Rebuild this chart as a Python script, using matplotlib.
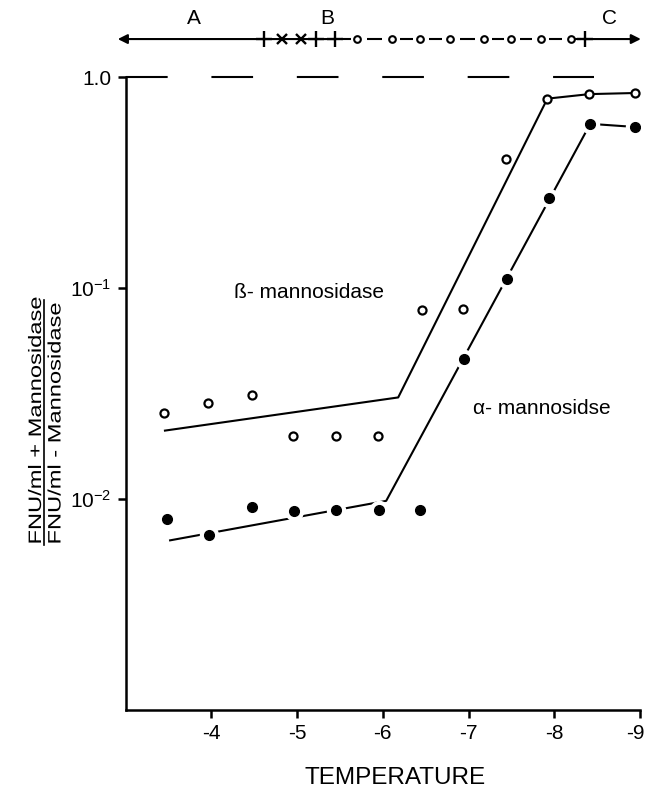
import numpy as np
import matplotlib
matplotlib.use("Agg")
import matplotlib.pyplot as plt
from matplotlib.lines import Line2D
from matplotlib.patches import PathPatch
from matplotlib.textpath import TextPath
from matplotlib.font_manager import FontProperties
import matplotlib.transforms as mtransforms

plt.rcParams['font.family'] = ['Liberation Sans', 'DejaVu Sans']
plt.rcParams['mathtext.fontset'] = 'custom'
plt.rcParams['mathtext.rm'] = 'Liberation Sans'

# beta-mannosidase (open circles)
beta_t = [-3.45, -3.96, -4.47, -4.95, -5.45, -5.95, -6.46, -6.94, -7.44, -7.92, -8.41, -8.94]
beta_r = [0.0256, 0.0286, 0.031, 0.020, 0.020, 0.020, 0.0787, 0.0795, 0.41, 0.79, 0.83, 0.84]
beta_fit_t = [-3.46, -6.18, -7.92, -8.41, -8.94]
beta_fit_r = [0.0211, 0.0303, 0.79, 0.83, 0.84]

# alpha-mannosidase (filled circles)
alpha_t = [-3.48, -3.97, -4.47, -4.96, -5.46, -5.96, -6.43, -6.95, -7.45, -7.94, -8.42, -8.94]
alpha_r = [0.0080, 0.00673, 0.0092, 0.0088, 0.0089, 0.0089, 0.0089, 0.046, 0.110, 0.267, 0.60, 0.58]
alpha_fit_t = [-3.52, -6.04, -8.42, -8.94]
alpha_fit_r = [0.00637, 0.0098, 0.60, 0.58]

# top strip: phase marks
plus_t = [-4.61, -5.22, -5.44, -8.36]
cross_t = [-4.82, -5.05]
ring_t = [-5.70, -6.11, -6.44, -6.79, -7.18, -7.50, -7.84, -8.19]
strip_span = [-2.91, -9.01]
region_labels = ['A', 'B', 'C']
region_t = [-3.80, -5.35, -8.65]

yticks = [1e-2, 1e-1, 1.0]
ytick_labels = [r'$\mathregular{10^{-2}}$', r'$\mathregular{10^{-1}}$', '1.0']
xticks = [-4, -5, -6, -7, -8, -9]
ylabel_num = 'FNU/ml + Mannosidase'
ylabel_den = 'FNU/ml - Mannosidase'

fig = plt.figure(figsize=(6.46, 7.95), dpi=100)
ax = fig.add_axes([0.1943, 0.1069, 0.7964, 0.7962])

ax.set_yscale('log')
ax.set_xlim(-3, -9)
ax.set_ylim(1e-3, 1.0)

# dashed reference at 1.0
ax.plot([-3, -8.46], [1.0, 1.0], color='black', lw=1.5,
        linestyle=(0, (20, 21)), clip_on=False, solid_capstyle='butt')

# beta
ax.plot(beta_fit_t, beta_fit_r, color='black', lw=1.5, zorder=2)
ax.plot(beta_t, beta_r, linestyle='none', marker='o', ms=5.8, mfc='white',
        mec='black', mew=1.6, zorder=4)

# alpha: line broken around the dots
ax.plot(alpha_fit_t, alpha_fit_r, color='black', lw=1.5, zorder=2)
ax.plot(alpha_t, alpha_r, linestyle='none', marker='o', ms=13, mfc='white',
        mec='white', zorder=3)
ax.plot(alpha_t, alpha_r, linestyle='none', marker='o', ms=7, mfc='black',
        mec='black', zorder=4)

ax.text(-4.27, 0.095, 'ß- mannosidase', fontsize=15, va='center', ha='left')
ax.text(-7.05, 0.027, 'α- mannosidse', fontsize=15, va='center', ha='left')

# axes styling
for s in ['top', 'right']:
    ax.spines[s].set_visible(False)
for s in ['left', 'bottom']:
    ax.spines[s].set_linewidth(1.8)
ax.set_yticks(yticks)
ax.set_yticklabels(ytick_labels)
ax.yaxis.set_minor_locator(matplotlib.ticker.NullLocator())
ax.set_xticks(xticks)
ax.set_xticklabels([str(t) for t in xticks])
ax.tick_params(axis='both', direction='out', length=6, width=1.8,
               labelsize=15, pad=4)
last = ax.get_xticklabels()[-1]
last.set_transform(last.get_transform() +
                   mtransforms.ScaledTranslation(-5 / 100, 0, fig.dpi_scale_trans))
ax.set_xlabel('TEMPERATURE', fontsize=17.5)
ax.xaxis.set_label_coords(0.524, -0.090)

# top phase strip (x in data, y in axes)
trans = mtransforms.blended_transform_factory(ax.transData, ax.transAxes)
ys = 1.060
ax.annotate('', xy=(strip_span[0], ys), xytext=(plus_t[2], ys),
            xycoords=trans, textcoords=trans,
            arrowprops=dict(arrowstyle='-|>', color='black', lw=1.5,
                            mutation_scale=14, shrinkA=0, shrinkB=0))
ax.annotate('', xy=(strip_span[1], ys), xytext=(plus_t[3], ys),
            xycoords=trans, textcoords=trans,
            arrowprops=dict(arrowstyle='-|>', color='black', lw=1.5,
                            mutation_scale=14, shrinkA=0, shrinkB=0))
# short dashes between the ring marks
chain = [plus_t[2]] + ring_t + [plus_t[3]]
for a, b in zip(chain[:-1], chain[1:]):
    m = 0.5 * (a + b)
    h = 0.22 * abs(b - a)
    ax.plot([m + h, m - h], [ys, ys], color='black', lw=1.5, transform=trans,
            clip_on=False, solid_capstyle='butt')
ax.plot(plus_t, [ys] * len(plus_t), linestyle='none', marker='+', ms=11,
        mew=1.7, color='black', transform=trans, clip_on=False)
ax.plot(cross_t, [ys] * len(cross_t), linestyle='none', marker='x', ms=7.5,
        mew=1.7, color='black', transform=trans, clip_on=False)
ax.plot(ring_t, [ys] * len(ring_t), linestyle='none', marker='o', ms=4.8,
        mfc='white', mec='black', mew=1.5, transform=trans, clip_on=False,
        zorder=5)
for lab, t in zip(region_labels, region_t):
    ax.text(t, 1.092, lab, transform=trans, fontsize=15, ha='center',
            va='center')

# y label: a condensed fraction, drawn as stretched text outlines (pixels)
prop = FontProperties(family='Liberation Sans')
H = 795
bar_x, y_mid, length, tsize = 44, H - 422, 245, 18
num_path = TextPath((0, 0), ylabel_num, size=tsize, prop=prop)
den_path = TextPath((0, 0), ylabel_den, size=tsize, prop=prop)
sx = length / num_path.get_extents().width
y0 = y_mid - length / 2
for path, base_x in [(num_path, bar_x - 3), (den_path, bar_x + 16.5)]:
    tr = (mtransforms.Affine2D().scale(sx, 1.0).rotate_deg(90)
          .translate(base_x, y0))
    fig.add_artist(PathPatch(path, facecolor='black', edgecolor='none',
                             transform=tr + mtransforms.IdentityTransform()))
fig.add_artist(Line2D([bar_x / 646, bar_x / 646],
                      [y0 / H, (y0 + length) / H], color='black', lw=1.2,
                      transform=fig.transFigure))

fig.savefig('out.png', dpi=100)
